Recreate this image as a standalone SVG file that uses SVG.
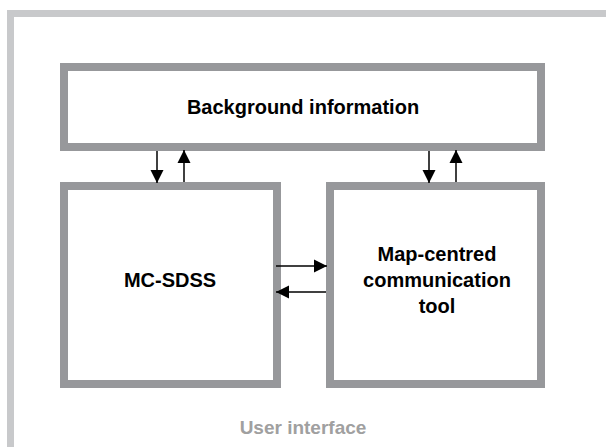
<svg xmlns="http://www.w3.org/2000/svg" width="606" height="447" viewBox="0 0 606 447">
<defs>
<style>
.box{fill:#fff;stroke:#97989b;stroke-width:8}
.lbl{font-family:"Liberation Sans",Arial,sans-serif;font-weight:bold;font-size:20px;fill:#000;text-anchor:middle}
.ui{fill:#a0a0a0;font-size:19px}
.conn{stroke:#000;stroke-width:1.5;fill:none}
</style>
<marker id="ah" viewBox="0 0 10 10" refX="10" refY="5" markerUnits="userSpaceOnUse" markerWidth="13" markerHeight="14" orient="auto">
<path d="M0,0 L10,5 L0,10 z" fill="#000"/>
</marker>
</defs>
<rect width="606" height="447" fill="#fff"/>
<g id="user-interface">
<rect x="10.5" y="13.5" width="620" height="460" fill="none" stroke="#c8c9cb" stroke-width="7"/>
<text x="303" y="434" class="lbl ui">User interface</text>
</g>
<g id="background-information">
<rect class="box" x="64" y="67" width="477" height="80"/>
<text x="303" y="114" class="lbl">Background information</text>
</g>
<g id="mc-sdss">
<rect class="box" x="64" y="186" width="213" height="198"/>
<text x="170" y="287" class="lbl">MC-SDSS</text>
</g>
<g id="map-centred-tool">
<rect class="box" x="330" y="186" width="211" height="198"/>
<text x="437" y="261" class="lbl">Map-centred</text>
<text x="437" y="287" class="lbl">communication</text>
<text x="437" y="313" class="lbl">tool</text>
</g>
<g id="connectors">
<line class="conn" x1="157" y1="151" x2="157" y2="183" marker-end="url(#ah)"/>
<line class="conn" x1="184" y1="182" x2="184" y2="150" marker-end="url(#ah)"/>
<line class="conn" x1="429" y1="151" x2="429" y2="183" marker-end="url(#ah)"/>
<line class="conn" x1="456" y1="182" x2="456" y2="150" marker-end="url(#ah)"/>
<line class="conn" x1="276" y1="266" x2="327" y2="266" marker-end="url(#ah)"/>
<line class="conn" x1="326" y1="292" x2="276" y2="292" marker-end="url(#ah)"/>
</g>
</svg>
